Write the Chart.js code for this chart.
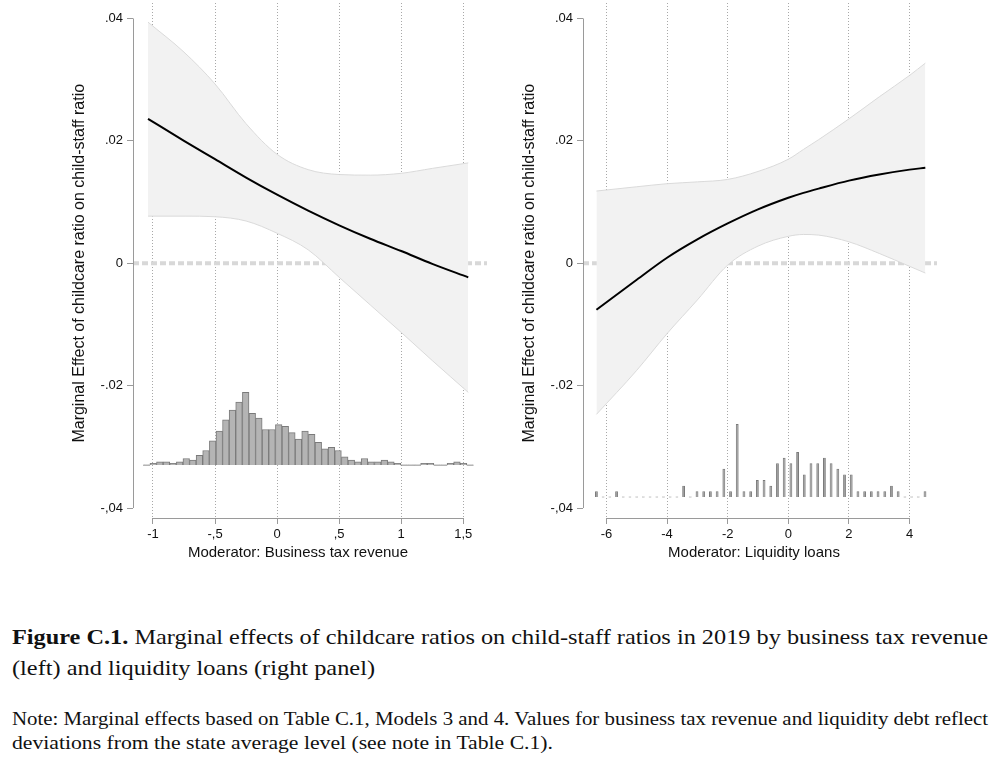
<!DOCTYPE html>
<html>
<head>
<meta charset="utf-8">
<script src="https://cdn.jsdelivr.net/npm/chart.js@4.4.1/dist/chart.umd.min.js"></script>
<style>
  body { margin: 0; background: #fff; }
  #left { position: absolute; left: 0; top: 0; }
  #right { position: absolute; left: 498px; top: 0; }
  .cap { position: absolute; left: 12px; white-space: nowrap; font-family: "Liberation Serif", serif; color: #111; transform-origin: 0 0; }
  .big { font-size: 22px; }
  .small { font-size: 18px; }
</style>
</head>
<body>
<canvas id="left" width="496" height="580"></canvas>
<canvas id="right" width="498" height="580"></canvas>

<div class="cap big" style="top:624px" data-w="976"><b>Figure C.1.</b> Marginal effects of childcare ratios on child-staff ratios in 2019 by business tax revenue</div>
<div class="cap big" style="top:655px" data-w="363">(left) and liquidity loans (right panel)</div>
<div class="cap small" style="top:709px" data-w="976">Note: Marginal effects based on Table C.1, Models 3 and 4. Values for business tax revenue and liquidity debt reflect</div>
<div class="cap small" style="top:733px" data-w="541">deviations from the state average level (see note in Table C.1).</div>

<script>
// left panel: business tax revenue
const taxX = [-1.04, -0.75, -0.5, -0.25, 0, 0.25, 0.5, 0.75, 1, 1.25, 1.54]
const taxEffect = [0.0236, 0.0200, 0.0170, 0.0140, 0.0112, 0.0086, 0.0062, 0.0040, 0.0020, -0.0001, -0.0023]
const taxUpper = [0.0394, 0.0345, 0.0293, 0.0228, 0.0178, 0.0153, 0.0145, 0.0144, 0.0147, 0.0155, 0.0164]
const taxLower = [0.0077, 0.0077, 0.0076, 0.0069, 0.0049, 0.0022, -0.0023, -0.0068, -0.0113, -0.0159, -0.0211]
const taxBins = [-1.051, -0.998, -0.945, -0.892, -0.839, -0.785, -0.732, -0.679, -0.626, -0.573,
  -0.519, -0.466, -0.413, -0.360, -0.307, -0.253, -0.200, -0.147, -0.094, -0.041,
  0.013, 0.066, 0.119, 0.172, 0.225, 0.279, 0.332, 0.385, 0.438, 0.491,
  0.545, 0.598, 0.651, 0.704, 0.757, 0.811, 0.864, 0.917, 0.970, 1.023,
  1.077, 1.130, 1.183, 1.236, 1.289, 1.343, 1.396, 1.449, 1.502, 1.555]
const taxCounts = [0, 1, 2, 2, 1, 2, 4, 3, 6, 9,
  15, 21, 28, 34, 39, 45, 32, 29, 22, 22,
  25, 24, 20, 16, 21, 19, 14, 10, 11, 9,
  5, 3, 2, 4, 2, 2, 3, 2, 1, 0,
  0, 0, 1, 1, 0, 0, 1, 2, 1, 0]
const taxTicks = [-1, -0.5, 0, 0.5, 1, 1.5]
const taxTickLabels = ['-1', '-,5', '0', ',5', '1', '1,5']

// right panel: liquidity loans
const loanX = [-6.33, -5, -4, -3, -2, -1, 0, 0.5, 1, 2, 3, 4, 4.52]
const loanEffect = [-0.0076, -0.0027, 0.0009, 0.0039, 0.0065, 0.0088, 0.0107, 0.0115, 0.0122, 0.0135, 0.0145, 0.0153, 0.0156]
const loanUpper = [0.0118, 0.0125, 0.0130, 0.0133, 0.0137, 0.0150, 0.0170, 0.0186, 0.0202, 0.0236, 0.0272, 0.0307, 0.0327]
const loanLower = [-0.0247, -0.0175, -0.0115, -0.0060, -0.0003, 0.0028, 0.0044, 0.0047, 0.0046, 0.0035, 0.0016, -0.0005, -0.0016]
const loanBins = [-6.330, -6.109, -5.888, -5.666, -5.445, -5.224, -5.003, -4.782, -4.560, -4.339,
  -4.118, -3.897, -3.676, -3.454, -3.233, -3.012, -2.791, -2.570, -2.348, -2.127,
  -1.906, -1.685, -1.464, -1.242, -1.021, -0.800, -0.579, -0.358, -0.136, 0.085,
  0.306, 0.527, 0.748, 0.970, 1.191, 1.412, 1.633, 1.854, 2.076, 2.297,
  2.518, 2.739, 2.960, 3.182, 3.403, 3.624, 3.845, 4.066, 4.288, 4.509]
const loanCounts = [1, 0, 0, 1, 0, 0, 0, 0, 0, 0,
  0, 0, 0, 2, 0, 1, 1, 1, 1, 5,
  1, 13, 1, 1, 3, 3, 2, 6, 7, 6,
  8, 4, 6, 6, 7, 6, 5, 4, 4, 1,
  1, 1, 1, 1, 2, 1, 0, 0, 0, 1]
const loanTicks = [-6, -4, -2, 0, 2, 4]
const loanTickLabels = ['-6', '-4', '-2', '0', '2', '4']

// shared y axis
const yTicks = [-0.04, -0.02, 0, 0.02, 0.04]
const yTickLabels = ['-,04', '-.02', '0', '.02', '.04']
const yTitle = 'Marginal Effect of childcare ratio on child-staff ratio'

const Y_MIN = -0.04163
const Y_MAX = 0.04253

Chart.defaults.font.family = '"Liberation Sans", Arial, sans-serif'
Chart.defaults.color = '#111'

const pts = (xs, ys) => xs.map((x, i) => ({ x, y: ys[i] }))

// stata-style axis lines (only between first and last tick) + axis titles
const axisDecor = {
  id: 'axisDecor',
  afterDraw(chart, args, opts) {
    const { ctx, chartArea, scales: { x, y } } = chart
    const xt = x.ticks
    const top = y.getPixelForValue(yTicks[yTicks.length - 1])
    const bottom = y.getPixelForValue(yTicks[0])
    ctx.save()
    ctx.strokeStyle = '#9a9a9a'
    ctx.lineWidth = 1
    ctx.beginPath()
    ctx.moveTo(chartArea.left + 0.5, top)
    ctx.lineTo(chartArea.left + 0.5, bottom)
    ctx.moveTo(x.getPixelForValue(xt[0].value), chartArea.bottom + 0.5)
    ctx.lineTo(x.getPixelForValue(xt[xt.length - 1].value), chartArea.bottom + 0.5)
    ctx.stroke()

    ctx.fillStyle = '#111'
    ctx.textAlign = 'center'
    ctx.textBaseline = 'middle'
    ctx.font = '15px "Liberation Sans", Arial, sans-serif'
    ctx.fillText(opts.xTitle, (chartArea.left + chartArea.right) / 2 + opts.xShift, chartArea.bottom + 35)

    ctx.translate(chartArea.left - 53, (top + bottom) / 2)
    ctx.rotate(-Math.PI / 2)
    ctx.font = '16px "Liberation Sans", Arial, sans-serif'
    ctx.fillText(yTitle, 0, 0)
    ctx.restore()
  },
}

const makePanel = (el, p) => new Chart(el, {
  type: 'line',
  data: {
    datasets: [
      {
        data: pts([p.xMin, p.xMax], [0, 0]),
        borderColor: '#d8d8d8',
        borderWidth: 4,
        borderDash: [6, 3],
        pointRadius: 0,
        order: 5,
      },
      {
        data: pts(p.x, p.upper),
        borderColor: '#dadada',
        borderWidth: 1,
        backgroundColor: '#f2f2f2',
        fill: '+1',
        pointRadius: 0,
        cubicInterpolationMode: 'monotone',
        order: 4,
      },
      {
        data: pts(p.x, p.lower),
        borderColor: '#dadada',
        borderWidth: 1,
        fill: false,
        pointRadius: 0,
        cubicInterpolationMode: 'monotone',
        order: 3,
      },
      {
        type: 'bar',
        data: pts(p.bins, p.counts),
        yAxisID: 'yh',
        backgroundColor: p.barFill,
        borderColor: '#7a7a7a',
        borderWidth: 1,
        barPercentage: p.barPct,
        categoryPercentage: 1,
        minBarLength: 1,
        order: 2,
      },
      {
        data: pts(p.x, p.effect),
        borderColor: '#000',
        borderWidth: 2,
        pointRadius: 0,
        cubicInterpolationMode: 'monotone',
        order: 1,
      },
    ],
  },
  options: {
    responsive: false,
    animation: false,
    layout: { padding: { top: 3, right: p.padRight, left: 0, bottom: 0 } },
    plugins: {
      legend: { display: false },
      tooltip: { enabled: false },
      axisDecor: { xTitle: p.title, xShift: p.titleShift },
    },
    scales: {
      x: {
        type: 'linear',
        min: p.xMin,
        max: p.xMax,
        offset: false,
        afterBuildTicks: s => { s.ticks = p.ticks.map(v => ({ value: v })) },
        afterFit: s => { s.height = 62; s.paddingLeft = 0; s.paddingRight = 0 },
        ticks: {
          callback: v => p.tickLabels[p.ticks.indexOf(v)],
          font: { size: 13 },
          padding: 3,
          maxRotation: 0,
        },
        grid: { offset: false, color: '#a8a8a8', lineWidth: 1, tickColor: '#9a9a9a', tickLength: 6 },
        border: { display: false, dash: [1, 2] },
      },
      y: {
        min: Y_MIN,
        max: Y_MAX,
        afterBuildTicks: s => { s.ticks = yTicks.map(v => ({ value: v })) },
        afterFit: s => { s.width = p.yWidth; s.paddingTop = 0; s.paddingBottom = 0 },
        ticks: {
          callback: v => yTickLabels[yTicks.indexOf(v)],
          font: { size: 13 },
          padding: 4,
        },
        grid: { drawOnChartArea: false, tickColor: '#9a9a9a', tickLength: 6 },
        border: { display: false },
      },
      yh: {
        display: false,
        min: (Y_MIN - p.histBase) / p.histUnit,
        max: (Y_MAX - p.histBase) / p.histUnit,
      },
    },
  },
  plugins: [axisDecor],
})

makePanel(document.getElementById('left'), {
  x: taxX, effect: taxEffect, upper: taxUpper, lower: taxLower,
  bins: taxBins, counts: taxCounts,
  ticks: taxTicks, tickLabels: taxTickLabels,
  title: 'Moderator: Business tax revenue', titleShift: -12,
  xMin: -1.161, xMax: 1.691,
  histBase: -0.03297, histUnit: 0.000264,
  barFill: '#b4b4b4', barPct: 1,
  yWidth: 133, padRight: 9,
})

makePanel(document.getElementById('right'), {
  x: loanX, effect: loanEffect, upper: loanUpper, lower: loanLower,
  bins: loanBins, counts: loanCounts,
  ticks: loanTicks, tickLabels: loanTickLabels,
  title: 'Moderator: Liquidity loans', titleShift: -6,
  xMin: -6.773, xMax: 4.905,
  histBase: -0.03819, histUnit: 0.000918,
  barFill: '#8e8e8e', barPct: 0.42,
  yWidth: 85, padRight: 59,
})

// squeeze caption lines to the printed widths
document.querySelectorAll('.cap').forEach(el => {
  el.style.display = 'inline-block'
  const w = el.getBoundingClientRect().width
  el.style.transform = `scaleX(${el.dataset.w / w})`
})
</script>
</body>
</html>
